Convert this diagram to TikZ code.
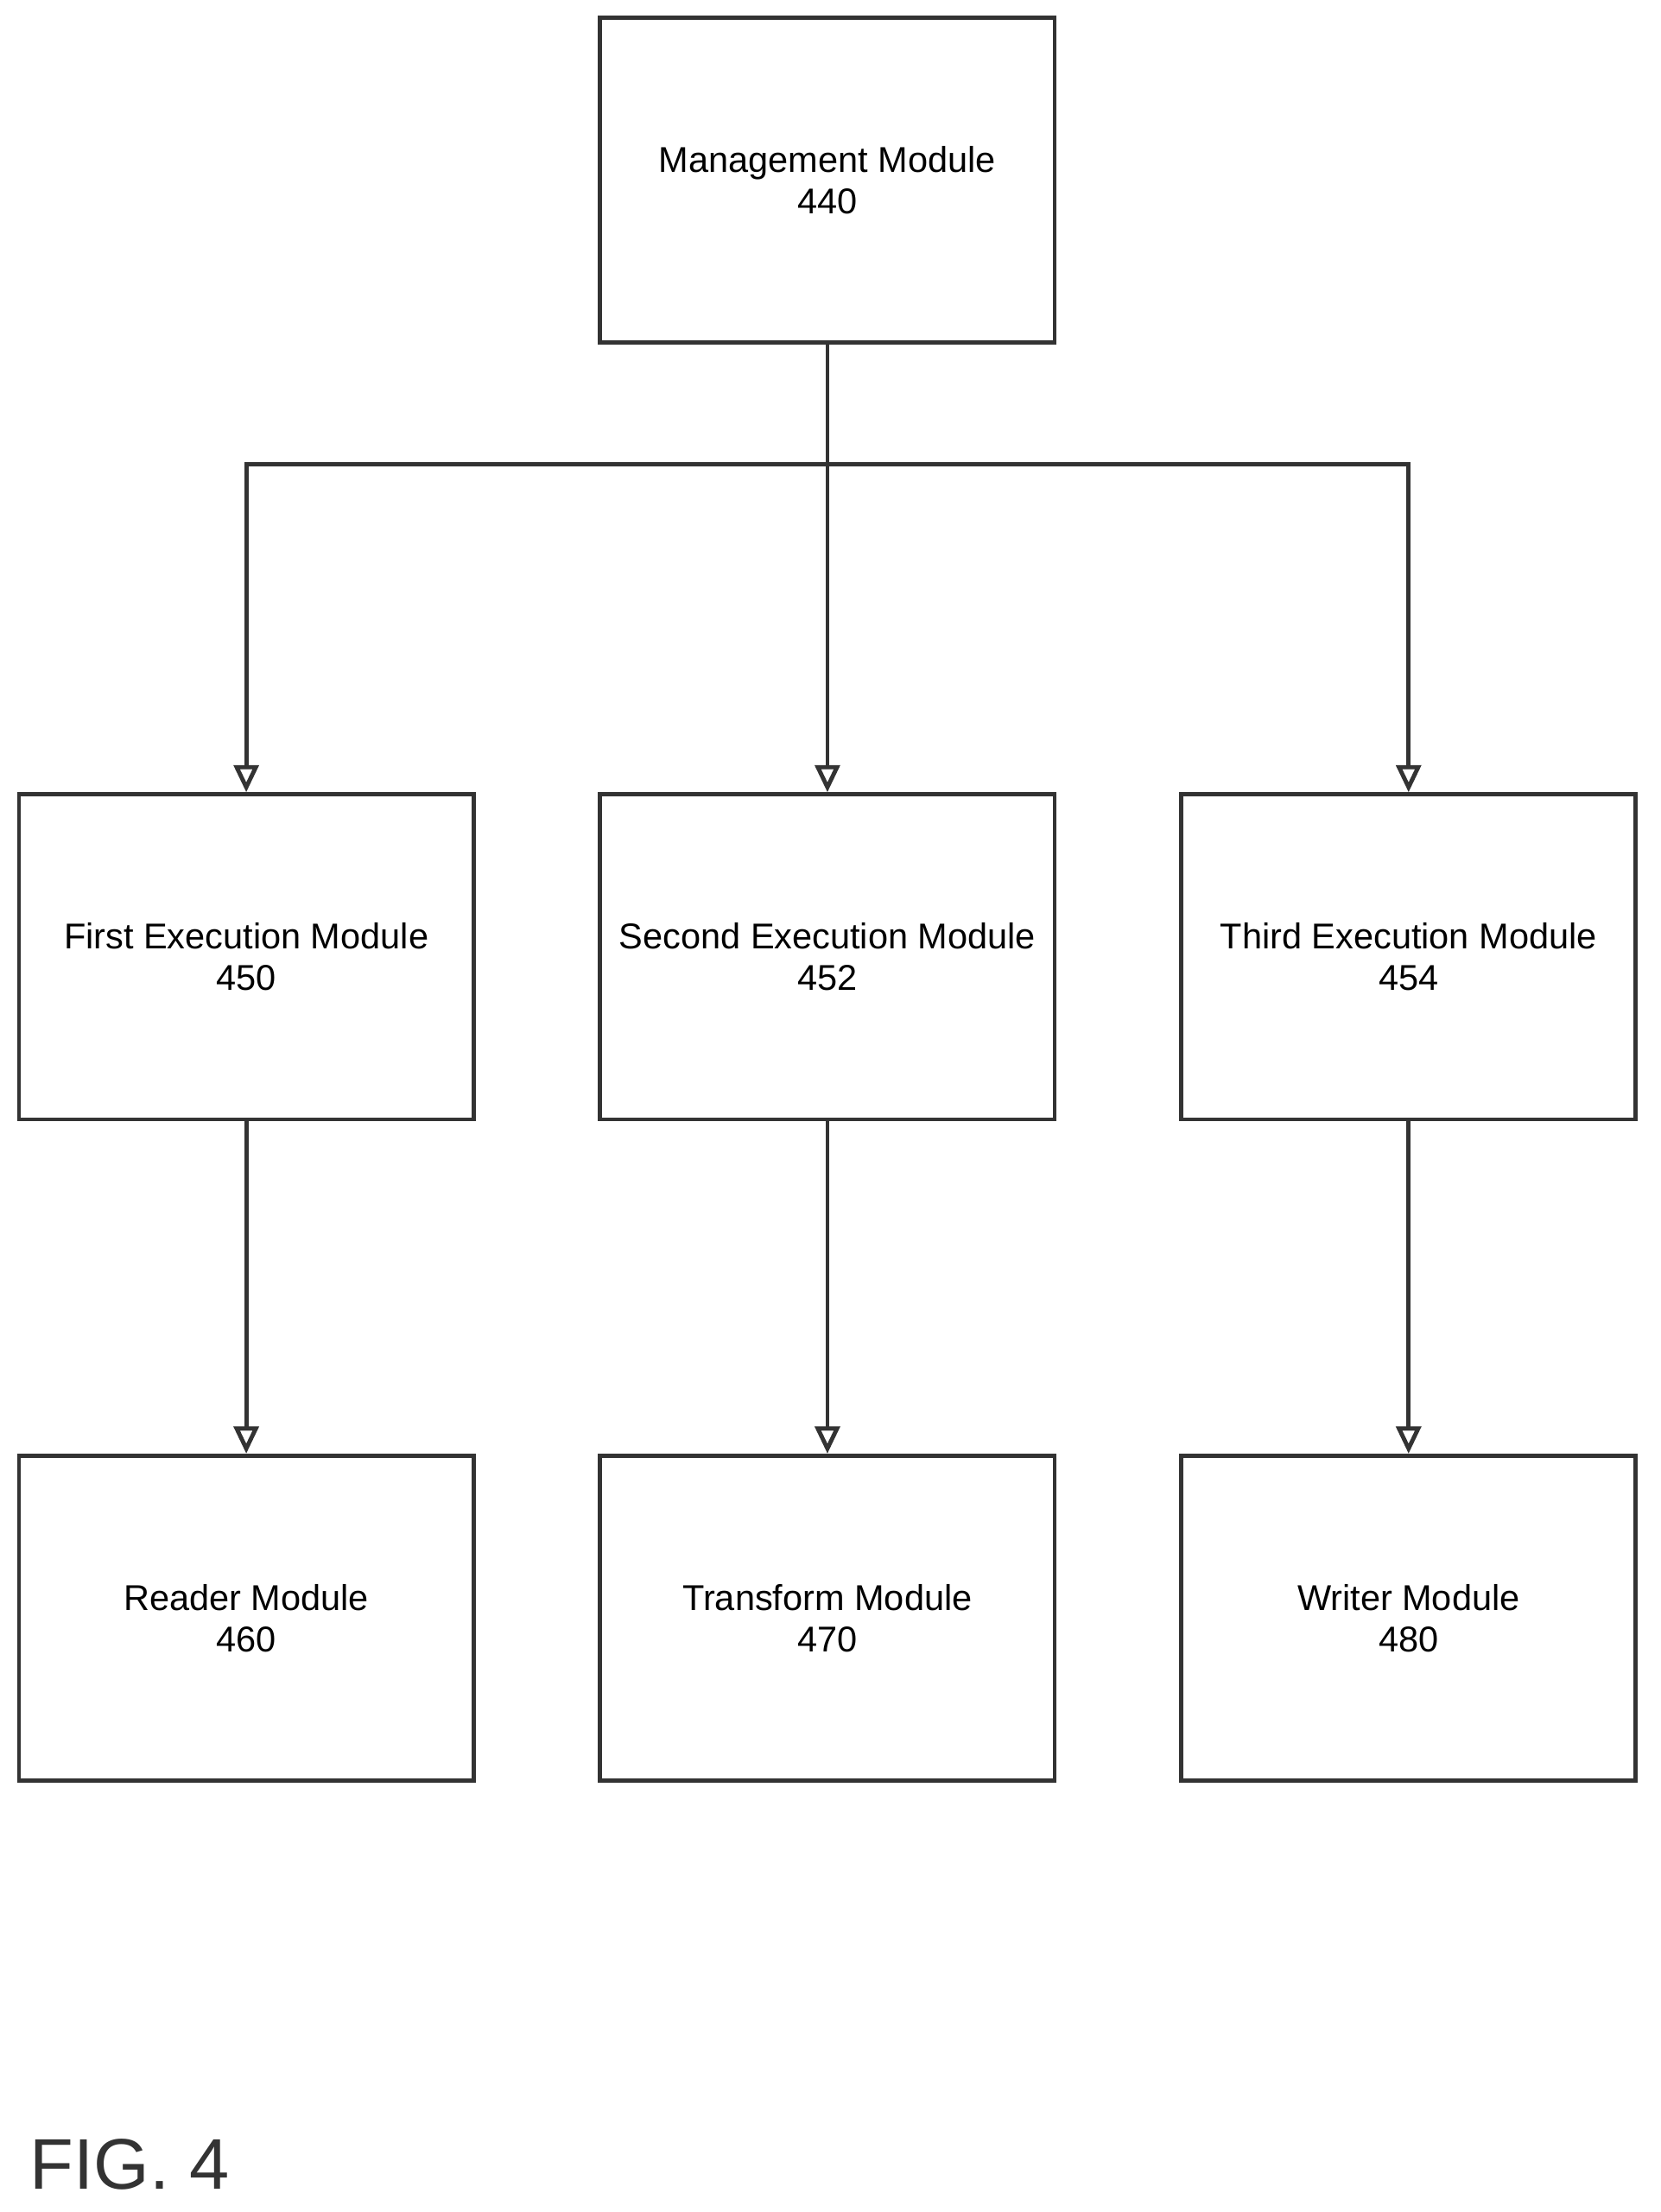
\documentclass[tikz,border=0pt]{standalone}
\usepackage{fontspec}
\setmainfont{Liberation Sans}
\usetikzlibrary{arrows.meta}
\begin{document}
\begin{tikzpicture}[x=0.02cm, y=-0.02cm, line width=1.7pt,
  module/.style={draw=black!80, minimum width=6.46cm, minimum height=4.62cm,
    align=center, font=\fontsize{14.5}{17}\selectfont},
  link/.style={draw=black!80, -{Triangle[open, length=11pt, width=10pt]}}]
  \useasboundingbox (0, 0) rectangle (1180, 1572);
  \node[module] (mgmt) at (588, 128) {Management Module\\440};
  \node[module] (first) at (175, 680) {First Execution Module\\450};
  \node[module] (second) at (588, 680) {Second Execution Module\\452};
  \node[module] (third) at (1001, 680) {Third Execution Module\\454};
  \node[module] (reader) at (175, 1150) {Reader Module\\460};
  \node[module] (transform) at (588, 1150) {Transform Module\\470};
  \node[module] (writer) at (1001, 1150) {Writer Module\\480};
  \coordinate (split) at (588, 330);
  \draw[draw=black!80] (mgmt.south) -- (split);
  \draw[link] (split) -| (first.north);
  \draw[link] (split) -- (second.north);
  \draw[link] (split) -| (third.north);
  \draw[link] (first) -- (reader);
  \draw[link] (second) -- (transform);
  \draw[link] (third) -- (writer);
  \node[anchor=west, font=\fontsize{29}{32}\selectfont, text=black!80] (fig) at (14, 1538) {FIG. 4};
\end{tikzpicture}
\end{document}
